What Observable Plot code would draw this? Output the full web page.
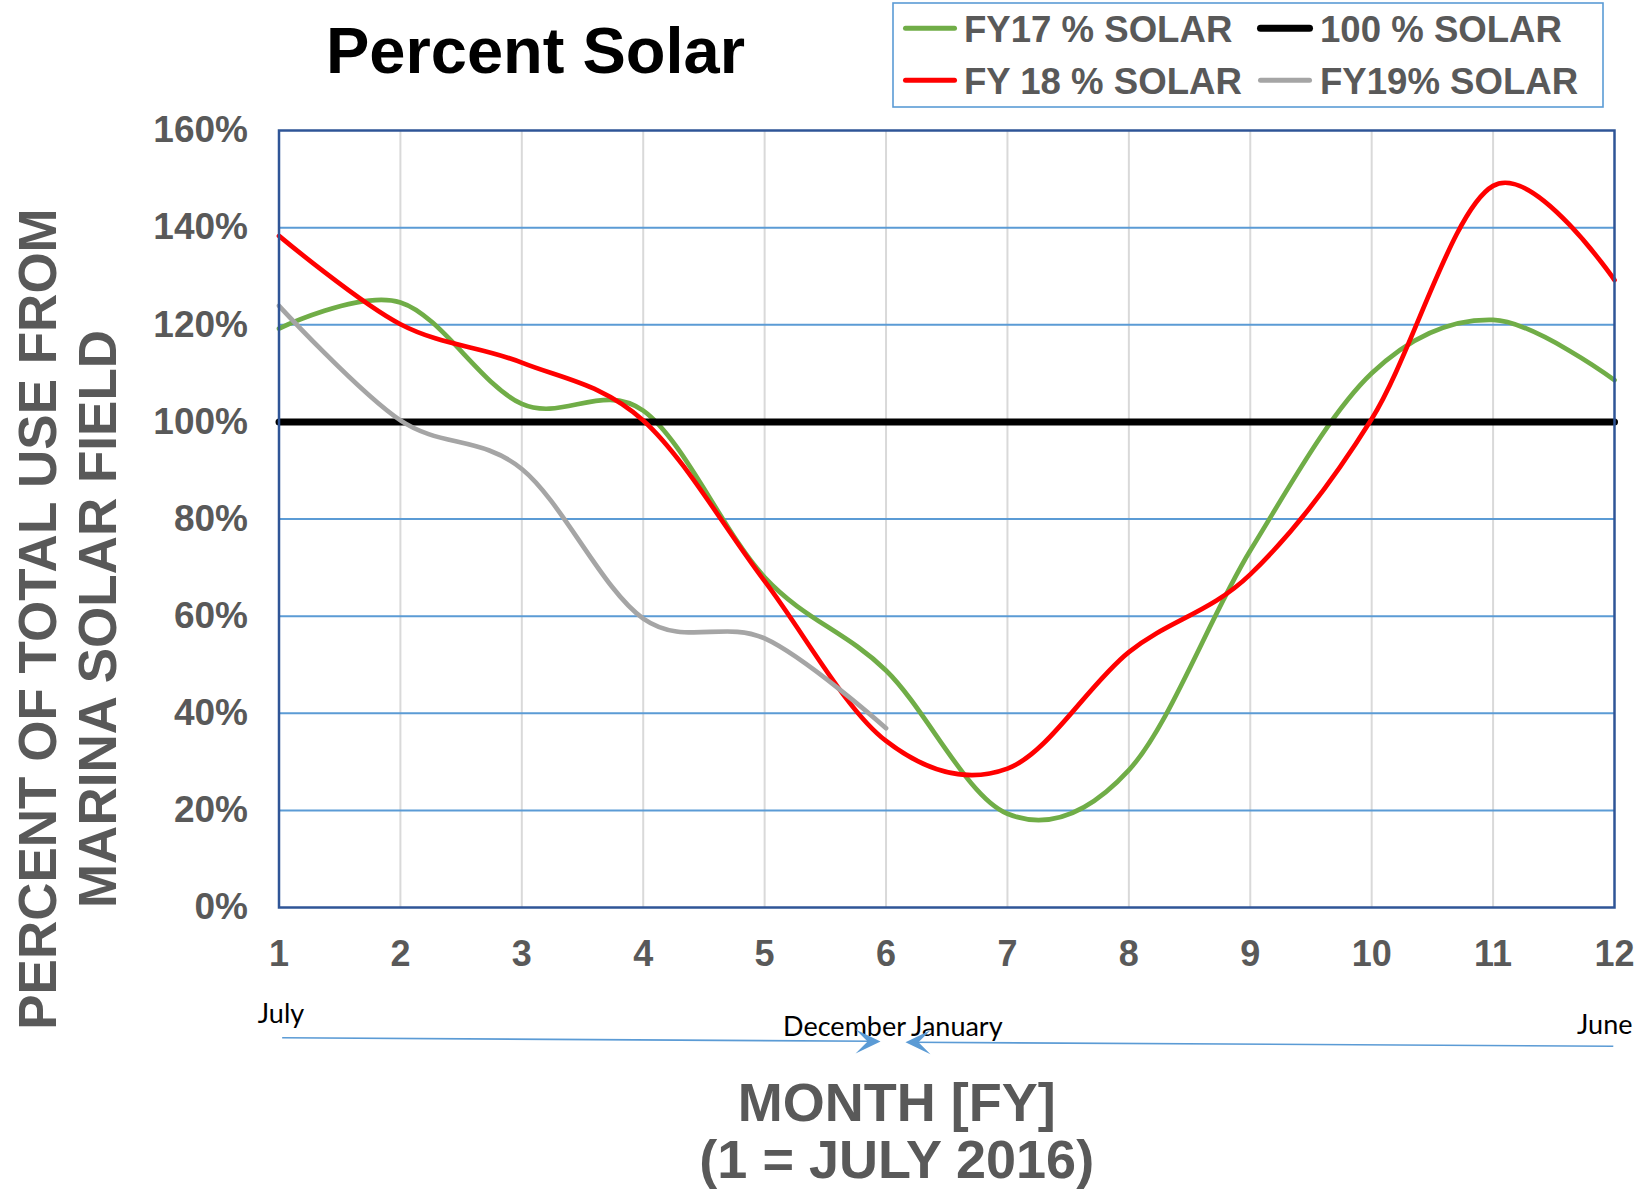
<!DOCTYPE html>
<html><head><meta charset="utf-8">
<script src="https://cdn.jsdelivr.net/npm/d3@7"></script>
<script src="https://cdn.jsdelivr.net/npm/@observablehq/plot@0.6"></script>
<style>
html,body{margin:0;padding:0;background:#fff;}
#wrap{position:relative;width:1651px;height:1193px;overflow:hidden;background:#fff;}
#wrap svg{position:absolute;left:0;top:0;}
</style></head><body><div id="wrap"></div>
<script>
// ---- data ----
const months = [1, 2, 3, 4, 5, 6, 7, 8, 9, 10, 11, 12];
const fy17 = [119.2, 124.6, 103.7, 102.3, 68.0, 48.8, 19.3, 28.3, 73.5, 110.0, 121.0, 108.6];
const solar100 = [100, 100, 100, 100, 100, 100, 100, 100, 100, 100, 100, 100];
const fy18 = [138.3, 120.1, 112.2, 100.3, 67.2, 34.3, 28.6, 52.6, 68.6, 100.6, 148.6, 129.2];
const fy19 = [123.9, 100.3, 90.3, 59.5, 55.4, 36.9];
const yTicks = [0, 20, 40, 60, 80, 100, 120, 140, 160];
const seriesNames = ["FY17 % SOLAR", "100 % SOLAR", "FY 18 % SOLAR", "FY19% SOLAR"];
const seriesColors = ["#70AD47", "#000000", "#FF0000", "#A5A5A5"];
const monthNotes = ["July", "December", "January", "June"];
const chartTitle = "Percent Solar";
const yTitle = "PERCENT OF TOTAL USE FROM\nMARINA SOLAR FIELD";
const xTitle = "MONTH [FY]\n(1 = JULY 2016)";

const seriesValues = [fy17, solar100, fy18, fy19];
const rows = seriesValues.flatMap((vals, s) =>
  vals.map((v, i) => ({series: seriesNames[s], month: months[i], value: v})));

const font = "'Liberation Sans', Arial, Helvetica, sans-serif";
const noteFont = "Lato, 'Open Sans', sans-serif";
const arrowBlue = "#5B9BD5";

const stealthRight = {draw(ctx) { ctx.moveTo(0, 0); ctx.lineTo(-25, -12); ctx.lineTo(-13, 0); ctx.lineTo(-25, 12); ctx.closePath(); }};
const stealthLeft = {draw(ctx) { ctx.moveTo(0, 0); ctx.lineTo(25, -12); ctx.lineTo(13, 0); ctx.lineTo(25, 12); ctx.closePath(); }};

const lineMark = (s, w) => Plot.line(rows.filter(d => d.series === seriesNames[s]), {
  x: "month", y: "value", stroke: seriesColors[s], strokeWidth: w,
  curve: "cardinal", strokeLinecap: "round", strokeLinejoin: "round"
});

const chart = Plot.plot({
  width: 1651, height: 1193,
  marginLeft: 278.5, marginRight: 37, marginTop: 130, marginBottom: 286,
  style: {fontFamily: font, color: "#595959", background: "#fff", overflow: "visible"},
  x: {domain: [1, 12]},
  y: {domain: [0, 160]},
  marks: [
    Plot.ruleX(months.slice(1, -1), {stroke: "#D9D9D9", strokeWidth: 2}),
    Plot.ruleY(yTicks.slice(1, -1), {stroke: "#5B9BD5", strokeWidth: 2}),
    Plot.axisY({ticks: yTicks, tickSize: 0, tickPadding: 31, tickFormat: d => d + "%",
      fontSize: 37, fontWeight: "bold", label: null}),
    Plot.axisX({ticks: months, tickSize: 0, tickPadding: 33, tickFormat: d => String(d),
      fontSize: 36, fontWeight: "bold", label: null}),
    lineMark(0, 4.7),
    lineMark(1, 7),
    lineMark(2, 4.7),
    lineMark(3, 4.7),
    Plot.frame({stroke: "#2F5597", strokeWidth: 2.5}),
    // axis titles
    Plot.text([yTitle], {text: d => d, frameAnchor: "left", rotate: -90, dx: -212.5, dy: 100,
      textAnchor: "middle", lineAnchor: "middle", fontSize: 53, fontWeight: "bold", lineHeight: 1.13, fill: "#595959"}),
    Plot.text([xTitle], {text: d => d, frameAnchor: "bottom", dx: -50, dy: 224,
      textAnchor: "middle", lineAnchor: "middle", fontSize: 54, fontWeight: "bold", lineHeight: 1.056, fill: "#595959"}),
    // month notes under the axis
    Plot.text([monthNotes[0]], {text: d => d, x: months[0], y: 0, dx: 2, dy: 107, textAnchor: "middle",
      lineAnchor: "middle", fontFamily: noteFont, fontSize: 27, fill: "#000"}),
    Plot.text([monthNotes[1]], {text: d => d, x: months[5], y: 0, dx: 20, dy: 120, textAnchor: "end",
      lineAnchor: "middle", fontFamily: noteFont, fontSize: 27, fill: "#000"}),
    Plot.text([monthNotes[2]], {text: d => d, x: months[5], y: 0, dx: 25, dy: 120, textAnchor: "start",
      lineAnchor: "middle", fontFamily: noteFont, fontSize: 27, fill: "#000"}),
    Plot.text([monthNotes[3]], {text: d => d, x: months[11], y: 0, dx: 18, dy: 117.5, textAnchor: "end",
      lineAnchor: "middle", fontFamily: noteFont, fontSize: 27, fill: "#000"}),
    // timeline arrows
    Plot.link([0], {x1: 1.026, y1: -26.83, x2: 5.9, y2: -27.55, stroke: arrowBlue, strokeWidth: 1.6}),
    Plot.link([0], {x1: 11.99, y1: -28.56, x2: 6.2, y2: -27.76, stroke: arrowBlue, strokeWidth: 1.6}),
    Plot.dot([0], {x: 5.955, y: -27.6, symbol: stealthRight, fill: arrowBlue, stroke: "none", r: 1}),
    Plot.dot([0], {x: 6.16, y: -27.74, symbol: stealthLeft, fill: arrowBlue, stroke: "none", r: 1})
  ]
});
const wrap = document.getElementById("wrap");
wrap.appendChild(chart);

// ---- title and legend overlay ----
const over = d3.create("svg").attr("width", 1651).attr("height", 120)
  .style("font-family", font).style("pointer-events", "none");
over.append("text").attr("x", 535.5).attr("y", 73.3).attr("text-anchor", "middle")
  .attr("font-size", 65).attr("font-weight", "bold").attr("fill", "#000").text(chartTitle);
over.append("rect").attr("x", 893).attr("y", 3).attr("width", 710).attr("height", 104)
  .attr("fill", "#fff").attr("stroke", "#5B9BD5").attr("stroke-width", 1.6);
const legendWidths = [5, 7, 5, 5];
seriesNames.forEach((name, i) => {
  const col = i % 2, row = Math.floor(i / 2);
  const x0 = col === 0 ? 905.5 : 1260.5;
  const x1 = col === 0 ? 954.5 : 1309.5;
  const tx = col === 0 ? 964 : 1320;
  const ly = row === 0 ? 28.3 : 80.3;
  const ty = row === 0 ? 41.7 : 94;
  over.append("line").attr("x1", x0).attr("x2", x1).attr("y1", ly).attr("y2", ly)
    .attr("stroke", seriesColors[i]).attr("stroke-width", legendWidths[i]).attr("stroke-linecap", "round");
  over.append("text").attr("x", tx).attr("y", ty).attr("font-size", 36.6).attr("font-weight", "bold")
    .attr("fill", "#595959").text(name);
});
wrap.appendChild(over.node());
</script></body></html>
